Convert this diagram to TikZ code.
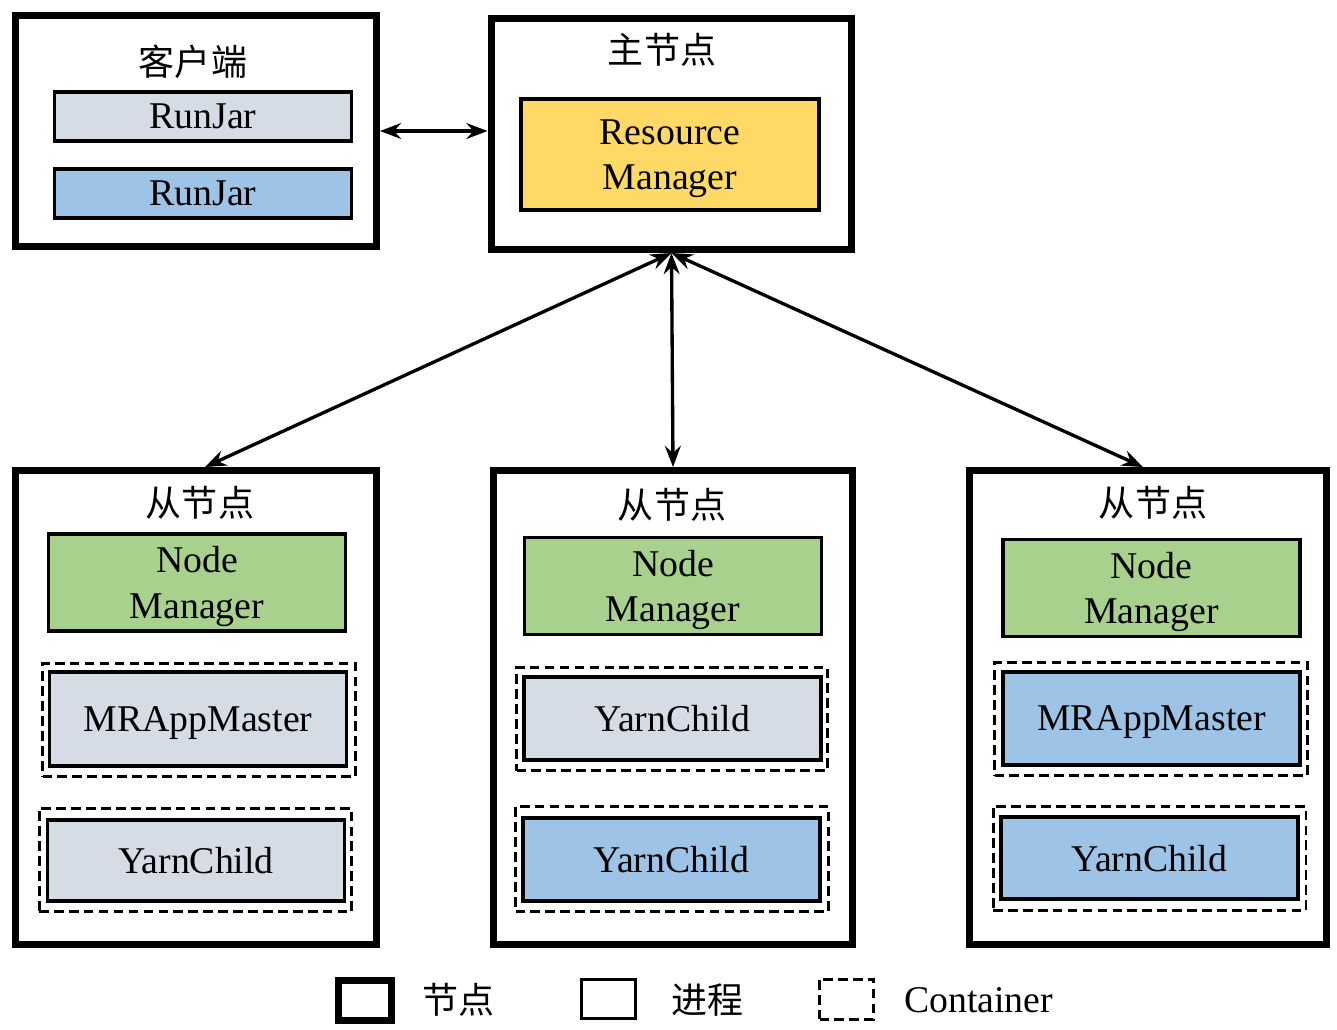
\documentclass[tikz,border=0pt]{standalone}
\usepackage{fontspec}
\setmainfont{Liberation Serif}
\newfontfamily\cjk{Noto Sans CJK SC}
\usepackage{xcolor}
\usepackage{tikz}
\usetikzlibrary{positioning, arrows.meta, calc}

\definecolor{procgray}{HTML}{D6DCE5}
\definecolor{procblue}{HTML}{9DC3E6}
\definecolor{rmyellow}{HTML}{FFD966}
\definecolor{nmgreen}{HTML}{A9D18E}

\tikzset{
    hostbox/.style={draw, line width=4pt, inner sep=0pt, minimum width=7.22cm, minimum height=9.48cm},
    procbox/.style={draw, line width=2pt, inner sep=0pt, minimum width=5.94cm, align=center,
        text depth=0pt, font=\fontsize{21.5}{26}\selectfont},
    containerbox/.style={draw, dashed, dash pattern=on 5.5pt off 3pt, line width=1.7pt, inner sep=0pt,
        minimum width=6.26cm},
    hosttitle/.style={font=\cjk\fontsize{20.5}{24}\selectfont},
    legendtext/.style={font=\fontsize{21.5}{26}\selectfont, anchor=west},
    link/.style={line width=1.9pt, {Stealth[length=12pt,width=9pt,inset=4pt]}-{Stealth[length=12pt,width=9pt,inset=4pt]}}
}

\begin{document}
\begin{tikzpicture}[x=0.02cm, y=-0.02cm]
        \useasboundingbox (0,0) rectangle (1337,1029);

        % Client
        \node[hostbox, minimum height=4.62cm] (client) at (196,131) {};
        \node[hosttitle] (clienttitle) at (193,62) {客户端};
        \node[procbox, fill=procgray, minimum height=0.99cm] (runjarA) at (203,116.5) {RunJar};
        \node[procbox, fill=procblue, minimum height=0.99cm] (runjarB) at (203,193.5) {RunJar};

        % Master node
        \node[hostbox, minimum height=4.62cm] (master) at (671.5,134) {};
        \node[hosttitle] (mastertitle) at (662,50) {主节点};
        \node[procbox, fill=rmyellow, minimum width=5.96cm, minimum height=2.22cm] (rm) at (670,154.5) {Resource\\Manager};

        % Slave nodes
        \node[hostbox] (slaveA) at (196,707.5) {};
        \node[hostbox, minimum width=7.18cm] (slaveB) at (673,707.5) {};
        \node[hostbox, minimum width=7.14cm] (slaveC) at (1148,707.5) {};
        \node[hosttitle] (titleA) at (200,503) {从节点};
        \node[hosttitle] (titleB) at (672,505) {从节点};
        \node[hosttitle] (titleC) at (1153,503) {从节点};

        % Node managers
        \node[procbox, fill=nmgreen, minimum height=1.94cm] (nmA) at (197,582.5) {Node\\Manager};
        \node[procbox, fill=nmgreen, minimum height=1.94cm] (nmB) at (673,586) {Node\\Manager};
        \node[procbox, fill=nmgreen, minimum height=1.94cm] (nmC) at (1151.5,588) {Node\\Manager};

        % Containers, left
        \node[containerbox, minimum height=2.26cm] (contA1) at (199,720) {};
        \node[procbox, fill=procgray, minimum height=1.88cm] (mrA) at (198,719) {MRAppMaster};
        \node[containerbox, minimum height=2.06cm] (contA2) at (195.5,860) {};
        \node[procbox, fill=procgray, minimum height=1.62cm] (ycA) at (196,860.5) {YarnChild};

        % Containers, middle
        \node[containerbox, minimum width=6.22cm, minimum height=2.06cm] (contB1) at (672,719) {};
        \node[procbox, fill=procgray, minimum height=1.66cm] (ycB1) at (672.5,718.5) {YarnChild};
        \node[containerbox, minimum height=2.1cm] (contB2) at (672,859) {};
        \node[procbox, fill=procblue, minimum height=1.66cm] (ycB2) at (671.5,859.5) {YarnChild};

        % Containers, right
        \node[containerbox, minimum height=2.26cm] (contC1) at (1151,719) {};
        \node[procbox, fill=procblue, minimum height=1.86cm] (mrC) at (1151.5,718.5) {MRAppMaster};
        \node[containerbox, minimum height=2.08cm] (contC2) at (1149.5,858.5) {};
        \node[procbox, fill=procblue, minimum height=1.64cm] (ycC) at (1149.5,858) {YarnChild};

        % Connections
        \draw[link] (client.east) -- (client.east -| master.west);
        \draw[link] (master.south) -- ($(slaveA.north)+(9,0)$);
        \draw[link] (master.south) -- (slaveB.north);
        \draw[link] (master.south) -- ($(slaveC.north)+(-5,0)$);

        % Legend
        \node[draw, line width=4pt, minimum width=1.06cm, minimum height=0.8cm] (keyhost) at (365,1000) {};
        \node[legendtext, font=\cjk\fontsize{20.5}{24}\selectfont] (keyhosttext) at (416,1000) {节点};
        \node[draw, line width=1.7pt, minimum width=1.08cm, minimum height=0.78cm] (keyproc) at (608.5,999) {};
        \node[legendtext, font=\cjk\fontsize{20.5}{24}\selectfont] (keyproctext) at (665,1000) {进程};
        \node[containerbox, minimum width=1.08cm, minimum height=0.8cm] (keycont) at (846.5,999) {};
        \node[legendtext] (keyconttext) at (898,1000) {Container};
    \end{tikzpicture}
\end{document}
